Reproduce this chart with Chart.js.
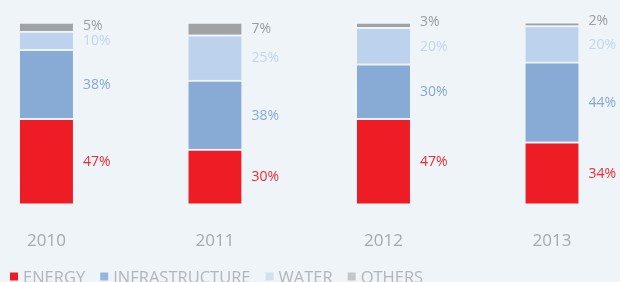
<!DOCTYPE html>
<html>
<head>
<meta charset="utf-8">
<script src="https://cdn.jsdelivr.net/npm/chart.js@4.4.1/dist/chart.umd.min.js"></script>
<style>
  html, body { margin: 0; padding: 0; background: #eff4f9; }
  #wrap { width: 620px; height: 282px; }
</style>
</head>
<body>
<div id="wrap"><canvas id="barChart" width="620" height="282"></canvas></div>
<script>
// DATA ==============================================================
var years = ["2010", "2011", "2012", "2013"];
var energy = [47, 30, 47, 34];
var infrastructure = [38, 38, 30, 44];
var water = [10, 25, 20, 20];
var others = [5, 7, 3, 2];
var seriesNames = ["ENERGY", "INFRASTRUCTURE", "WATER", "OTHERS"];

// colours
var bg = "#eff4f9";
var barColors = ["#ee1d25", "#88abd5", "#bdd2ec", "#a0a3a6"];
var labelColors = ["#ee2a33", "#86a9d4", "#c1d5ee", "#9a9da1"];
var legendColors = ["#ee1d25", "#94b8dc", "#cfe0f0", "#c4c6c8"];
var font = "'Open Sans', 'Noto Sans', sans-serif";

// percent labels right of each segment
var valueLabels = {
	id: "valueLabels",
	afterDatasetsDraw: function (chart) {
		var ctx = chart.ctx;
		ctx.save();
		ctx.font = "14px " + font;
		ctx.textBaseline = "middle";
		ctx.textAlign = "left";
		chart.data.datasets.forEach(function (ds, i) {
			var meta = chart.getDatasetMeta(i);
			meta.data.forEach(function (el, j) {
				var top = el.y + 2;
				var h = el.base - top;
				var y = (top + el.base) / 2 - Math.max(0, (10 - h) / 2);
				ctx.fillStyle = labelColors[i];
				ctx.fillText(ds.data[j] + "%", el.x + el.width / 2 + 10, y);
			});
		});
		ctx.restore();
	}
};

// legend along the bottom edge
var bottomLegend = {
	id: "bottomLegend",
	afterDraw: function (chart) {
		var ctx = chart.ctx;
		ctx.save();
		ctx.font = "16.5px " + font;
		ctx.textBaseline = "alphabetic";
		var x = 10;
		for (var i = 0; i < seriesNames.length; i++) {
			ctx.fillStyle = legendColors[i];
			ctx.fillRect(x, 272.5, 8, 8);
			x += 13;
			ctx.fillStyle = "#b3b6b9";
			ctx.fillText(seriesNames[i], x, 282.5);
			x += ctx.measureText(seriesNames[i]).width + 15;
		}
		ctx.restore();
	}
};

function makeSet(label, data, i) {
	return {
		label: label,
		data: data,
		backgroundColor: barColors[i],
		borderColor: bg,
		borderWidth: { top: 2, right: 0, bottom: 0, left: 0 },
		borderSkipped: false,
		barThickness: 53,
		clip: false
	};
}

var chart = new Chart(document.getElementById("barChart"), {
	type: "bar",
	data: {
		labels: years,
		datasets: [
			makeSet(seriesNames[0], energy, 0),
			makeSet(seriesNames[1], infrastructure, 1),
			makeSet(seriesNames[2], water, 2),
			makeSet(seriesNames[3], others, 3)
		]
	},
	options: {
		responsive: false,
		animation: false,
		devicePixelRatio: 1,
		layout: { padding: { left: 44.5, right: 68, top: 22, bottom: 4 } },
		plugins: {
			legend: { display: false },
			tooltip: { enabled: false }
		},
		scales: {
			x: {
				stacked: true,
				offset: false,
				grid: { display: false, drawTicks: false },
				border: { display: false },
				ticks: {
					color: "#a6a9ac",
					font: { family: font, size: 17 },
					padding: 27,
					maxRotation: 0,
					autoSkip: false
				}
			},
			y: {
				stacked: true,
				display: false,
				min: 0,
				max: 100
			}
		}
	},
	plugins: [valueLabels, bottomLegend]
});
</script>
</body>
</html>
